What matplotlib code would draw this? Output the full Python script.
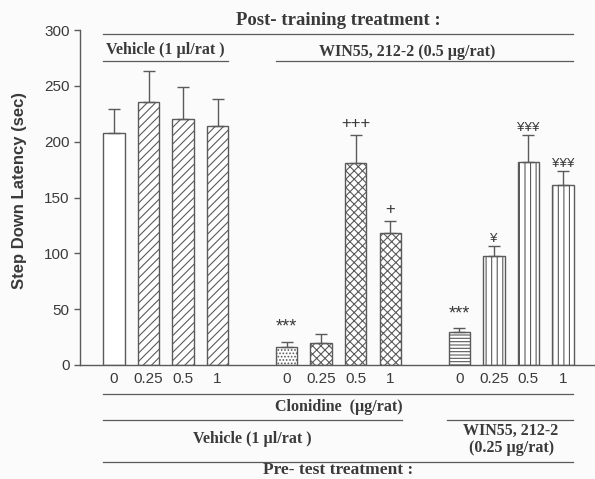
import numpy as np
import matplotlib
matplotlib.use('Agg')
import matplotlib.pyplot as plt

# data
doses = ['0', '0.25', '0.5', '1']
veh_mean = [208, 236, 220, 214]
veh_sem = [21, 27, 29, 24.5]
clon_mean = [16, 20, 181, 118.5]
clon_sem = [5, 8, 25, 10.5]
win_mean = [30, 97.5, 181.5, 161]
win_sem = [3, 9, 24.5, 13]

clon_marks = ['***', '', '+++', '+']
win_marks = ['***', '¥', '¥¥¥', '¥¥¥']

INK = '#3a3a3a'
AX = '#5a5a5a'
SERIF = 'Liberation Serif'
SANS = 'Liberation Sans'

plt.rcParams['hatch.linewidth'] = 0.8
plt.rcParams['hatch.color'] = AX

fig = plt.figure(figsize=(5.95, 4.79), dpi=100, facecolor='#fbfbfb')
ax = fig.add_axes([0.1345, 0.238, 0.8655, 0.699])
ax.set_facecolor('none')

pos1 = np.arange(4)
pos2 = np.arange(4) + 5
pos3 = np.arange(4) + 10
w = 0.62

def _bars(pos, means, sems, hatches):
	for p, m, h in zip(pos, means, hatches):
		ax.bar(p, m, width=w, color='white', edgecolor=AX, hatch=h, linewidth=1.0, zorder=2)
	ax.errorbar(pos, means, yerr=[np.zeros(len(means)), sems], fmt='none',
				ecolor=AX, elinewidth=1.0, capsize=4, capthick=1.0, zorder=3)

_bars(pos1, veh_mean, veh_sem, ['', '////', '////', '////'])
_bars(pos2, clon_mean, clon_sem, ['.....', 'xxxx', 'xxxx', 'xxxx'])
_bars(pos3, win_mean, win_sem, ['-----', '|||', '|||', '|||'])

def _marks(pos, means, sems, marks):
	for p, m, s, t in zip(pos, means, sems, marks):
		if not t:
			continue
		if t.startswith('*'):
			off, fs = 13, 13
		elif t.startswith('+'):
			off, fs = 10, 12
		else:
			off, fs = 6.5, 9.5
		ax.text(p, m + s + off, t, ha='center', va='center', fontsize=fs,
				color=INK, family=[SANS, 'DejaVu Sans'])

_marks(pos2, clon_mean, clon_sem, clon_marks)
_marks(pos3, win_mean, win_sem, win_marks)

ax.set_xlim(-0.984, 13.93)
ax.set_ylim(0, 300)
ax.set_yticks(range(0, 301, 50))
ax.set_xticks(np.concatenate([pos1, pos2, pos3]))
ax.set_xticklabels(doses * 3)
ax.tick_params(axis='x', length=0, pad=5, labelsize=11, labelcolor=INK)
ax.tick_params(axis='y', length=4, width=1.0, color=AX, labelsize=11, labelcolor=INK)
for lab in ax.get_xticklabels() + ax.get_yticklabels():
	lab.set_family(SANS)
for s in ['top', 'right']:
	ax.spines[s].set_visible(False)
for s in ['left', 'bottom']:
	ax.spines[s].set_color(AX)
	ax.spines[s].set_linewidth(1.0)

ax.set_ylabel('Step Down Latency (sec)', family=SANS, fontweight='bold', fontsize=12,
			  color=INK)
ax.yaxis.set_label_coords(-0.103, 0.52)

# group annotations
def _line(x0, x1, y):
	ax.plot([x0, x1], [y, y], color=AX, lw=0.9, clip_on=False)

def _label(x, y, s, size=11.5):
	ax.text(x, y, s, ha='center', va='center', family=SERIF, fontweight='bold',
			fontsize=size, color=INK, clip_on=False, linespacing=1.05)

lo, hi = -0.32, 13.3
_label(6.5, 309, 'Post- training treatment :', 13.5)
_line(lo, hi, 296.5)
_label(1.5, 282.5, 'Vehicle (1 µl/rat )')
_line(lo, 3.31, 272)
_label(8.5, 280.5, 'WIN55, 212-2 (0.5 µg/rat)')
_line(4.69, hi, 272)

_line(lo, hi, -26)
_label(6.5, -37.5, 'Clonidine  (µg/rat)')
_line(lo, 8.34, -49)
_line(9.64, hi, -49)
_label(4.0, -66, 'Vehicle (1 µl/rat )')
_label(11.5, -66.5, 'WIN55, 212-2\n(0.25 µg/rat)')
_line(lo, hi, -87)
_label(6.5, -94.5, 'Pre- test treatment :', 12.5)

fig.savefig('out.png', dpi=100, facecolor=fig.get_facecolor())
